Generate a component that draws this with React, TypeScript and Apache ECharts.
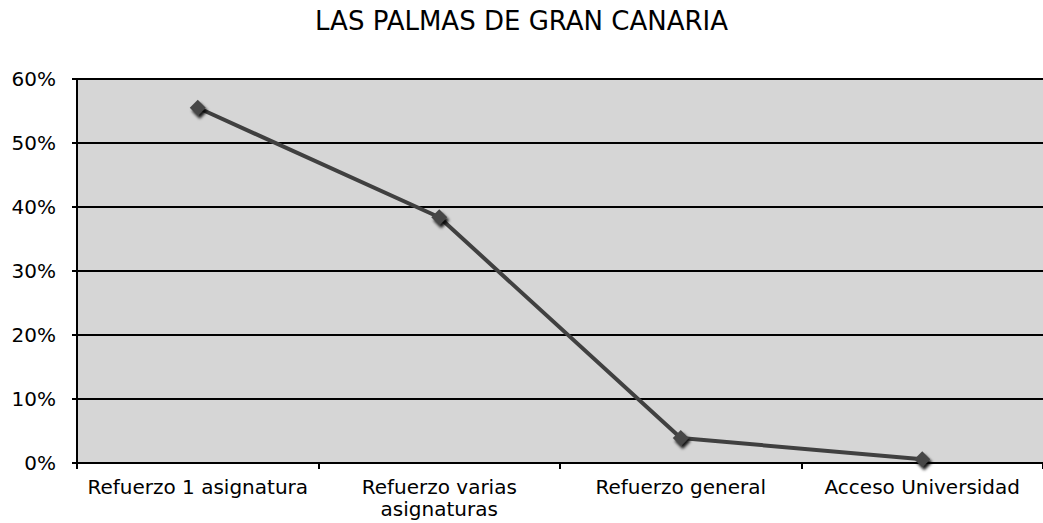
import React, { useEffect, useRef } from "react";
import * as echarts from "echarts";

const titleText = "LAS PALMAS DE GRAN CANARIA";
const categories = ["Refuerzo 1 asignatura", "Refuerzo varias\nasignaturas", "Refuerzo general", "Acceso Universidad"];
const values = [55.5, 38.4, 3.9, 0.6];
const yTicks = [0, 10, 20, 30, 40, 50, 60];

export default function App() {
  const ref = useRef<HTMLDivElement>(null);
  useEffect(() => {
    if (!ref.current) return;
    const chart = echarts.init(ref.current, undefined, { renderer: "svg" });
    chart.setOption({
      animation: false,
      backgroundColor: "#ffffff",
      title: {
        text: titleText,
        left: "center",
        top: 3,
        textStyle: { fontFamily: "DejaVu Sans", fontSize: 26, fontWeight: "normal", color: "#000" },
      },
      grid: {
        left: 77,
        right: 0,
        top: 79,
        bottom: 60,
        show: true,
        backgroundColor: "#d6d6d6",
        borderWidth: 0,
      },
      xAxis: {
        type: "category",
        data: categories,
        boundaryGap: true,
        axisLine: { show: true, lineStyle: { color: "#000", width: 2 } },
        axisTick: { show: true, length: 6, lineStyle: { color: "#000", width: 2 } },
        axisLabel: {
          fontFamily: "DejaVu Sans",
          fontSize: 20,
          color: "#000",
          margin: 13,
          lineHeight: 22,
          interval: 0,
        },
      },
      yAxis: {
        type: "value",
        min: yTicks[0],
        max: yTicks[yTicks.length - 1],
        interval: 10,
        axisLine: { show: true, lineStyle: { color: "#000", width: 2 } },
        axisTick: { show: true, length: 5, lineStyle: { color: "#000", width: 2 } },
        splitLine: { show: true, lineStyle: { color: "#000", width: 2 } },
        axisLabel: {
          fontFamily: "DejaVu Sans",
          fontSize: 20,
          color: "#000",
          margin: 21,
          formatter: (v: number) => v + "%",
        },
      },
      series: [
        {
          type: "line",
          data: values,
          symbol: "diamond",
          symbolSize: 16,
          lineStyle: { color: "#404040", width: 4 },
          itemStyle: {
            color: "#474747",
            shadowColor: "rgba(0,0,0,0.9)",
            shadowBlur: 3,
            shadowOffsetX: 2,
            shadowOffsetY: 3,
          },
        },
      ],
    });
    return () => chart.dispose();
  }, []);
  return <div ref={ref} style={{ position: "fixed", left: 0, top: 0, width: 1043, height: 523 }} />;
}
